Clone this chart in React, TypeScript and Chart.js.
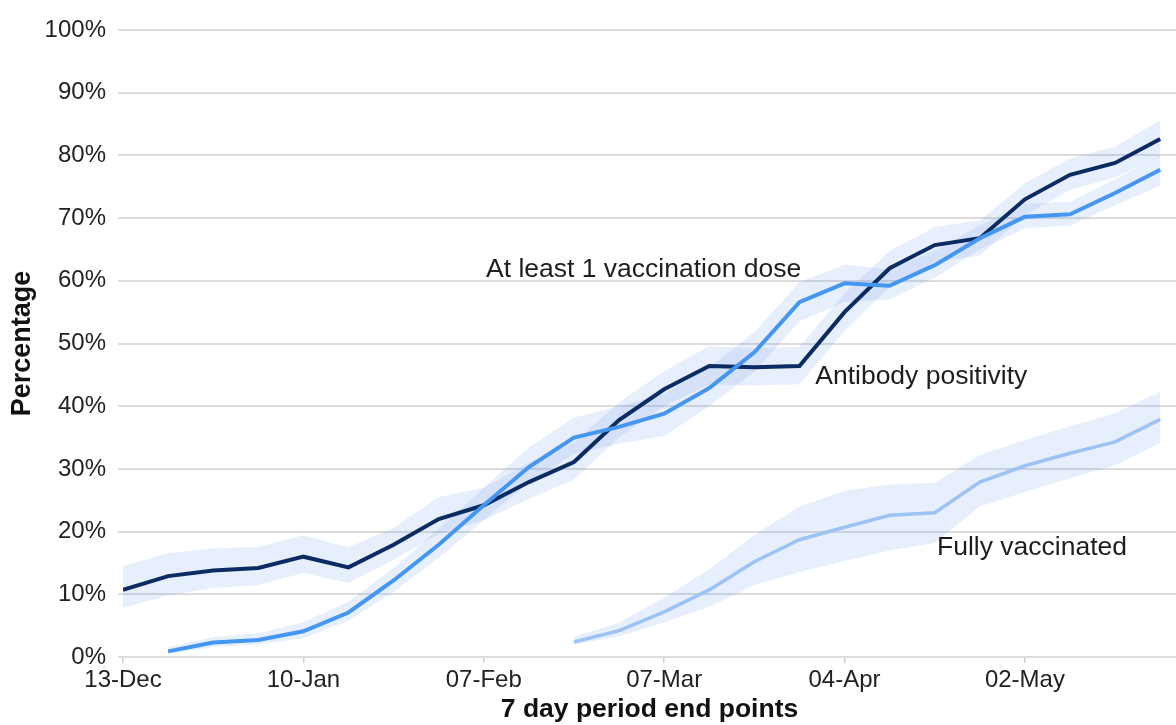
import React, { useEffect, useRef } from "react";
import { Chart, registerables } from "chart.js";

Chart.register(...registerables);

// 7-day period end points (weekly)
const weeks = [
  "13-Dec", "20-Dec", "27-Dec", "03-Jan", "10-Jan", "17-Jan", "24-Jan", "31-Jan",
  "07-Feb", "14-Feb", "21-Feb", "28-Feb", "07-Mar", "14-Mar", "21-Mar", "28-Mar",
  "04-Apr", "11-Apr", "18-Apr", "25-Apr", "02-May", "09-May", "16-May", "23-May",
];

// Antibody positivity (%)
const antibody = [
  10.7, 12.9, 13.8, 14.2, 16.0, 14.3, 17.9, 22.0, 24.2, 27.9, 31.1, 37.8,
  42.7, 46.4, 46.2, 46.4, 55.0, 62.0, 65.7, 66.8, 73.0, 76.9, 78.8, 82.6,
];
const antibodyLow = [
  7.8, 9.8, 11.0, 11.5, 13.4, 11.8, 15.5, 19.6, 21.8, 25.2, 28.3, 35.0,
  40.0, 43.5, 43.3, 43.5, 52.0, 59.0, 63.0, 64.0, 70.5, 74.5, 76.5, 79.8,
];
const antibodyHigh = [
  14.5, 16.6, 17.3, 17.6, 19.4, 17.5, 20.6, 25.5, 27.0, 31.0, 34.2, 40.6,
  45.6, 49.6, 49.2, 49.5, 58.0, 64.8, 68.6, 69.6, 75.6, 79.5, 81.4, 85.6,
];

// At least 1 vaccination dose (%)
const oneDose = [
  null, 0.9, 2.3, 2.7, 4.1, 7.1, 12.2, 17.9, 24.2, 30.3, 35.0, 36.7,
  38.8, 42.9, 48.6, 56.6, 59.6, 59.2, 62.5, 66.8, 70.2, 70.6, 74.0, 77.7,
];
const oneDoseLow = [
  null, 0.5, 1.6, 2.0, 3.0, 5.8, 10.4, 15.8, 21.8, 27.8, 32.4, 34.0,
  35.2, 40.0, 45.5, 53.5, 56.6, 57.0, 60.5, 65.0, 68.4, 68.8, 72.0, 75.2,
];
const oneDoseHigh = [
  null, 1.5, 3.2, 3.8, 5.6, 8.8, 14.2, 20.4, 27.0, 33.4, 38.2, 40.0,
  42.0, 46.2, 51.8, 59.8, 62.6, 61.8, 64.8, 68.8, 72.3, 72.6, 76.2, 80.0,
];

// Fully vaccinated (%)
const fully = [
  null, null, null, null, null, null, null, null, null, null, 2.4, 4.2,
  7.2, 10.7, 15.2, 18.7, 20.7, 22.6, 23.0, 27.9, 30.5, 32.5, 34.3, 37.9,
];
const fullyLow = [
  null, null, null, null, null, null, null, null, null, null, 2.0, 3.3,
  5.5, 8.0, 11.5, 13.5, 15.3, 17.0, 18.2, 24.0, 26.3, 28.5, 30.6, 34.1,
];
const fullyHigh = [
  null, null, null, null, null, null, null, null, null, null, 3.2, 5.5,
  9.5, 14.0, 19.5, 24.0, 26.5, 27.5, 27.8, 32.2, 34.6, 36.8, 38.9, 42.3,
];

const yTicks = [0, 10, 20, 30, 40, 50, 60, 70, 80, 90, 100];
const xTickEvery = 4;

// Series labels placed in data coordinates (week index, percentage)
const seriesLabels = [
  { text: "At least 1 vaccination dose", x: 8.05, y: 61.7 },
  { text: "Antibody positivity", x: 15.35, y: 44.7 },
  { text: "Fully vaccinated", x: 18.05, y: 17.5 },
];

const toPoints = (arr: (number | null)[]) =>
  arr
    .map((v, i) => (v === null ? null : { x: i, y: v }))
    .filter((p) => p !== null) as { x: number; y: number }[];

const FONT = '"Liberation Sans", Arial, sans-serif';
const BAND = "rgba(100,150,235,0.15)";

const labelPlugin = {
  id: "seriesLabels",
  afterDatasetsDraw(chart: any) {
    const { ctx, scales } = chart;
    const x = scales.x;
    const y = scales.y;
    ctx.save();
    ctx.font = `26.5px ${FONT}`;
    ctx.fillStyle = "#1e1e1e";
    ctx.textAlign = "left";
    ctx.textBaseline = "middle";
    seriesLabels.forEach((l) => {
      ctx.fillText(l.text, x.getPixelForValue(l.x), y.getPixelForValue(l.y));
    });
    ctx.restore();
  },
};

export default function App() {
  const ref = useRef<HTMLCanvasElement>(null);

  useEffect(() => {
    if (!ref.current) return;
    const line = (label: string, data: any, color: string, width: number) => ({
      label,
      data: toPoints(data),
      borderColor: color,
      backgroundColor: color,
      borderWidth: width,
      pointRadius: 0,
      fill: false,
      tension: 0,
      order: 0,
    });
    const band = (data: any, fill: any) => ({
      label: "",
      data: toPoints(data),
      borderWidth: 0,
      borderColor: "rgba(0,0,0,0)",
      backgroundColor: BAND,
      pointRadius: 0,
      fill,
      tension: 0,
      order: 1,
    });

    const chart = new Chart(ref.current, {
      type: "line",
      data: {
        datasets: [
          line("Fully vaccinated", fully, "#9cc3f5", 3.5),
          line("At least 1 vaccination dose", oneDose, "#4596f0", 4),
          line("Antibody positivity", antibody, "#0b2c62", 4),
          band(antibodyLow, false),
          band(antibodyHigh, "-1"),
          band(oneDoseLow, false),
          band(oneDoseHigh, "-1"),
          band(fullyLow, false),
          band(fullyHigh, "-1"),
        ] as any,
      },
      options: {
        animation: false,
        responsive: false,
        maintainAspectRatio: false,
        layout: { padding: { top: 30, left: 0, right: 0, bottom: 0 } },
        plugins: {
          legend: { display: false },
          tooltip: { enabled: false },
        },
        scales: {
          x: {
            type: "linear",
            min: 0,
            max: 23.35,
            afterBuildTicks: (scale: any) => {
              scale.ticks = weeks
                .map((_, i) => i)
                .filter((i) => i % xTickEvery === 0)
                .map((v) => ({ value: v }));
            },
            afterFit: (scale: any) => {
              scale.height = 68;
            },
            border: { display: false },
            grid: {
              drawOnChartArea: false,
              drawTicks: true,
              tickLength: 6,
              color: "#cfcfcf",
              lineWidth: 1.5,
            },
            ticks: {
              autoSkip: false,
              maxRotation: 0,
              padding: 3,
              color: "#222",
              font: { family: FONT, size: 24 },
              callback: (v: any) => weeks[Math.round(Number(v))] ?? "",
            },
            title: {
              display: true,
              text: "7 day period end points",
              color: "#111",
              font: { family: FONT, size: 26.5, weight: "bold", lineHeight: 1 },
              padding: { top: 0, bottom: 2 },
            },
          },
          y: {
            type: "linear",
            min: 0,
            max: 100,
            afterBuildTicks: (scale: any) => {
              scale.ticks = yTicks.map((v) => ({ value: v }));
            },
            afterFit: (scale: any) => {
              scale.width = 123;
            },
            border: { display: false },
            grid: {
              color: "#dcdcdc",
              lineWidth: 2,
              drawTicks: true,
              tickLength: 5,
            },
            ticks: {
              padding: 12,
              color: "#222",
              font: { family: FONT, size: 24 },
              callback: (v: any) => `${v}%`,
            },
            title: {
              display: true,
              text: "Percentage",
              color: "#111",
              font: { family: FONT, size: 27, weight: "bold", lineHeight: 1 },
              padding: { top: 9.5, bottom: 0 },
            },
          },
        },
      },
      plugins: [labelPlugin],
    });
    return () => chart.destroy();
  }, []);

  return (
    <div style={{ position: "absolute", left: 0, top: 0, width: 1176, height: 725, background: "#fff" }}>
      <canvas ref={ref} width={1176} height={725} style={{ display: "block", width: 1176, height: 725 }} />
    </div>
  );
}
